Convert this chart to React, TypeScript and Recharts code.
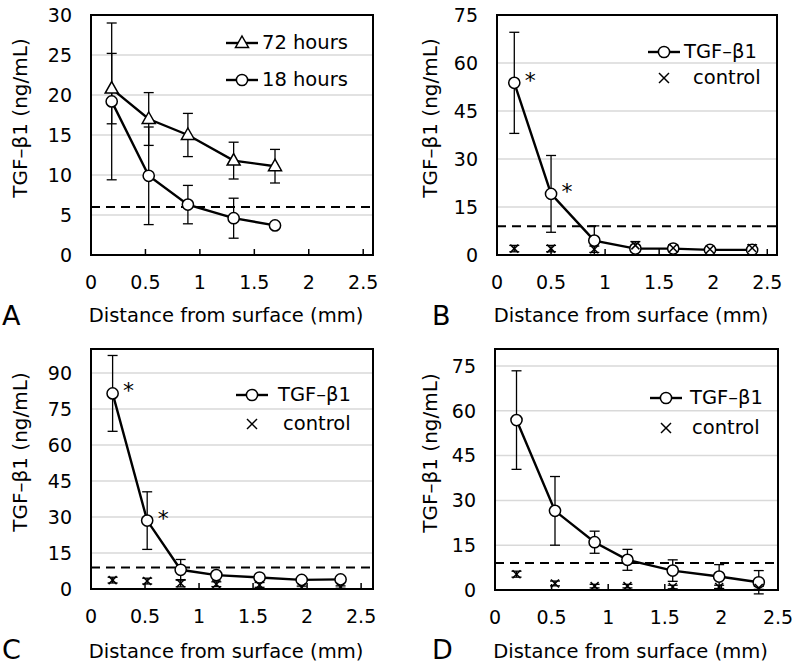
import React from 'react'
import {
  ComposedChart,
  Line,
  XAxis,
  YAxis,
  CartesianGrid,
  ReferenceLine,
  ErrorBar,
} from 'recharts'

const FONT = '"DejaVu Sans", Verdana, sans-serif'

const distanceTicks = [0, 0.5, 1, 1.5, 2, 2.5]

// Panel A: 72 h vs 18 h
const aDistance = [0.19, 0.53, 0.89, 1.31, 1.69]
const a72h = [20.8, 17.0, 15.0, 11.8, 11.1]
const a72hErr = [4.4, 3.3, 2.7, 2.3, 2.1]
const a18h = [19.2, 9.9, 6.3, 4.6, 3.7]
const a18hErr = [9.8, 6.1, 2.4, 2.5, 0]
const aTicksY = [0, 5, 10, 15, 20, 25, 30]
const aThreshold = 6

// Panel B
const bDistance = [0.16, 0.5, 0.9, 1.28, 1.63, 1.97, 2.36]
const bTgf = [53.8, 19.1, 4.5, 2.0, 2.0, 1.6, 1.6]
const bTgfErr = [15.8, 12.0, 4.6, 1.0, 1.0, 0.8, 0.8]
const bControl = [2.0, 2.0, 1.8, 3.0, 2.2, 1.8, 2.2]
const bControlErr = [1.0, 1.0, 1.0, 1.2, 1.0, 0.8, 1.0]
const bSignificant = [true, true, false, false, false, false, false]
const bTicksY = [0, 15, 30, 45, 60, 75]

// Panel C
const cDistance = [0.2, 0.52, 0.83, 1.16, 1.56, 1.95, 2.31]
const cTgf = [81.5, 28.5, 8.0, 5.8, 4.8, 3.8, 4.0]
const cTgfErr = [15.8, 12.0, 4.3, 1.0, 1.0, 1.0, 1.0]
const cControl = [3.7, 3.3, 2.4, 2.0, 1.7, 0.7, 0.8]
const cControlErr = [1.2, 1.2, 1.5, 1.0, 1.0, 0.5, 0.5]
const cSignificant = [true, true, false, false, false, false, false]
const cTicksY = [0, 15, 30, 45, 60, 75, 90]

// Panel D
const dDistance = [0.19, 0.53, 0.88, 1.17, 1.57, 1.98, 2.33]
const dTgf = [56.9, 26.5, 16.0, 10.1, 6.5, 4.5, 2.6]
const dTgfErr = [16.5, 11.5, 3.7, 3.5, 3.6, 4.0, 3.9]
const dControl = [5.3, 2.2, 1.3, 1.3, 1.0, 1.0, 0.7]
const dControlErr = [1.0, 0.8, 0.6, 0.6, 0.6, 0.6, 0.5]
const dTicksY = [0, 15, 30, 45, 60, 75]

const threshold = 9

type Marker = 'triangle' | 'circle' | 'cross'

interface SeriesSpec {
  name: string
  marker: Marker
  line: boolean
  values: number[]
  errors: number[]
}

interface PanelSpec {
  letter: string
  offX: number
  offY: number
  plot: { left: number; top: number; right: number; bottom: number }
  xMax: number
  yMax: number
  yTicks: number[]
  threshold: number
  distance: number[]
  series: SeriesSpec[]
  significant?: boolean[]
  legend: { x: number; rows: number[]; textX: number[] }
}

const MarkerShape = ({ kind, cx, cy, big }: { kind: Marker; cx: number; cy: number; big?: boolean }) => {
  if (kind === 'triangle') {
    return (
      <path
        d={`M${cx},${cy - 7} L${cx + 6.5},${cy + 4.5} L${cx - 6.5},${cy + 4.5} Z`}
        fill="#fff"
        stroke="#000"
        strokeWidth={1.5}
      />
    )
  }
  if (kind === 'cross') {
    const r = big ? 5 : 4
    return (
      <g stroke="#000" strokeWidth={1.5}>
        <line x1={cx - r} y1={cy - r} x2={cx + r} y2={cy + r} />
        <line x1={cx - r} y1={cy + r} x2={cx + r} y2={cy - r} />
      </g>
    )
  }
  return <circle cx={cx} cy={cy} r={5.6} fill="#fff" stroke="#000" strokeWidth={1.5} />
}

const panels: PanelSpec[] = [
  {
    letter: 'A',
    offX: 0,
    offY: 0,
    plot: { left: 91, top: 15, right: 373, bottom: 255 },
    xMax: 2.59,
    yMax: 30,
    yTicks: aTicksY,
    threshold: aThreshold,
    distance: aDistance,
    series: [
      { name: '72 hours', marker: 'triangle', line: true, values: a72h, errors: a72hErr },
      { name: '18 hours', marker: 'circle', line: true, values: a18h, errors: a18hErr },
    ],
    legend: { x: 242, rows: [43, 80], textX: [262, 262] },
  },
  {
    letter: 'B',
    offX: 400,
    offY: 0,
    plot: { left: 497, top: 15, right: 777, bottom: 255 },
    xMax: 2.59,
    yMax: 75,
    yTicks: bTicksY,
    threshold,
    distance: bDistance,
    series: [
      { name: 'TGF–β1', marker: 'circle', line: true, values: bTgf, errors: bTgfErr },
      { name: 'control', marker: 'cross', line: false, values: bControl, errors: bControlErr },
    ],
    significant: bSignificant,
    legend: { x: 664, rows: [52, 78], textX: [684, 693] },
  },
  {
    letter: 'C',
    offX: 0,
    offY: 334,
    plot: { left: 91, top: 349, right: 373, bottom: 589 },
    xMax: 2.61,
    yMax: 100,
    yTicks: cTicksY,
    threshold,
    distance: cDistance,
    series: [
      { name: 'TGF–β1', marker: 'circle', line: true, values: cTgf, errors: cTgfErr },
      { name: 'control', marker: 'cross', line: false, values: cControl, errors: cControlErr },
    ],
    significant: cSignificant,
    legend: { x: 252, rows: [395, 424], textX: [278, 283] },
  },
  {
    letter: 'D',
    offX: 400,
    offY: 334,
    plot: { left: 495, top: 349, right: 778, bottom: 590 },
    xMax: 2.5,
    yMax: 80.7,
    yTicks: dTicksY,
    threshold,
    distance: dDistance,
    series: [
      { name: 'TGF–β1', marker: 'circle', line: true, values: dTgf, errors: dTgfErr },
      { name: 'control', marker: 'cross', line: false, values: dControl, errors: dControlErr },
    ],
    legend: { x: 666, rows: [398, 428], textX: [690, 692] },
  },
]

const W = 400
const H = 334
const Y_AXIS_W = 60
const X_AXIS_H = 40

const Panel = ({ p }: { p: PanelSpec }) => {
  const rows = p.distance.map((x, i) => ({
    x,
    s0: p.series[0].values[i],
    e0: p.series[0].errors[i],
    s1: p.series[1].values[i],
    e1: p.series[1].errors[i],
  }))
  const margin = {
    left: p.plot.left - p.offX - Y_AXIS_W,
    right: p.offX + W - p.plot.right,
    top: p.plot.top - p.offY,
    bottom: p.offY + H - p.plot.bottom - X_AXIS_H,
  }
  const sig = p.significant || []
  const star = (props: any) => {
    if (!sig[props.index]) return <g />
    return (
      <text x={props.x + 16} y={props.y + 5} textAnchor="middle" fontSize={22} fontFamily={FONT} fill="#000">
        *
      </text>
    )
  }
  const tickStyle = { fontSize: 19, fontFamily: FONT, fill: '#000' }
  const plotW = p.plot.right - p.plot.left
  const plotH = p.plot.bottom - p.plot.top

  return (
    <div style={{ position: 'absolute', left: p.offX, top: p.offY, width: W, height: H }}>
      <ComposedChart width={W} height={H} data={rows} margin={margin}>
        <CartesianGrid horizontal vertical={false} stroke="#d9d9d9" strokeWidth={1.5} />
        <XAxis
          type="number"
          dataKey="x"
          domain={[0, p.xMax]}
          ticks={distanceTicks}
          interval={0}
          allowDataOverflow
          height={X_AXIS_H}
          axisLine={false}
          tickSize={-6}
          tickMargin={27}
          tickLine={{ stroke: '#000', strokeWidth: 1.5 }}
          tick={tickStyle}
        />
        <YAxis
          type="number"
          domain={[0, p.yMax]}
          ticks={p.yTicks}
          interval={0}
          allowDataOverflow
          width={Y_AXIS_W}
          axisLine={false}
          tickLine={false}
          tickSize={0}
          tickMargin={19}
          tick={tickStyle}
        />
        <ReferenceLine y={p.threshold} stroke="#000" strokeWidth={2} strokeDasharray="9 6" />
        {p.series.map((s, k) => (
          <Line
            key={s.name}
            type="linear"
            dataKey={`s${k}`}
            stroke={s.line ? '#000' : 'none'}
            strokeWidth={2.4}
            isAnimationActive={false}
            activeDot={false}
            dot={(d: any) => <MarkerShape key={`${k}-${d.index}`} kind={s.marker} cx={d.cx} cy={d.cy} />}
            label={k === 0 ? star : undefined}
          >
            <ErrorBar dataKey={`e${k}`} direction="y" width={5} stroke="#000" strokeWidth={1.3} />
          </Line>
        ))}
      </ComposedChart>
      {/* frame */}
      <div
        style={{
          position: 'absolute',
          left: p.plot.left - p.offX - 1,
          top: p.plot.top - p.offY - 1,
          width: plotW + 2,
          height: plotH + 2,
          border: '2.5px solid #000',
          boxSizing: 'border-box',
          pointerEvents: 'none',
        }}
      />
      {/* legend */}
      {p.series.map((s, k) => (
        <div key={s.name}>
          <svg
            width={40}
            height={20}
            style={{
              position: 'absolute',
              left: p.legend.x - p.offX - 20,
              top: p.legend.rows[k] - p.offY - 10,
            }}
          >
            {s.line && <line x1={4} y1={10} x2={36} y2={10} stroke="#000" strokeWidth={2.4} />}
            <MarkerShape kind={s.marker} cx={20} cy={10} big />
          </svg>
          <div
            style={{
              position: 'absolute',
              left: p.legend.textX[k] - p.offX,
              top: p.legend.rows[k] - p.offY,
              transform: 'translateY(-50%)',
              fontFamily: FONT,
              fontSize: 19.5,
              whiteSpace: 'nowrap',
              lineHeight: 1,
            }}
          >
            {s.name}
          </div>
        </div>
      ))}
      {/* y label */}
      <div
        style={{
          position: 'absolute',
          left: p.offX === 0 ? 20 : 30,
          top: (p.plot.top + p.plot.bottom) / 2 - p.offY - 17,
          transform: 'translate(-50%, -50%) rotate(-90deg)',
          fontFamily: FONT,
          fontSize: 20,
          whiteSpace: 'nowrap',
          lineHeight: 1,
        }}
      >
        TGF–β1 (ng/mL)
      </div>
      {/* x label */}
      <div
        style={{
          position: 'absolute',
          left: (p.plot.left + p.plot.right) / 2 - p.offX - 6,
          top: 316 + (p.offY ? 2 : 0),
          transform: 'translate(-50%, -50%)',
          fontFamily: FONT,
          fontSize: 19.5,
          whiteSpace: 'nowrap',
          lineHeight: 1,
        }}
      >
        Distance from surface (mm)
      </div>
      {/* panel letter */}
      <div
        style={{
          position: 'absolute',
          left: p.offX === 0 ? 2 : 32,
          top: 315,
          transform: 'translateY(-50%)',
          fontFamily: FONT,
          fontSize: 27,
          lineHeight: 1,
        }}
      >
        {p.letter}
      </div>
    </div>
  )
}

export default function App() {
  return (
    <div style={{ position: 'absolute', left: 0, top: 0, width: 800, height: 668, background: '#fff' }}>
      {panels.map((p) => (
        <Panel key={p.letter} p={p} />
      ))}
    </div>
  )
}
